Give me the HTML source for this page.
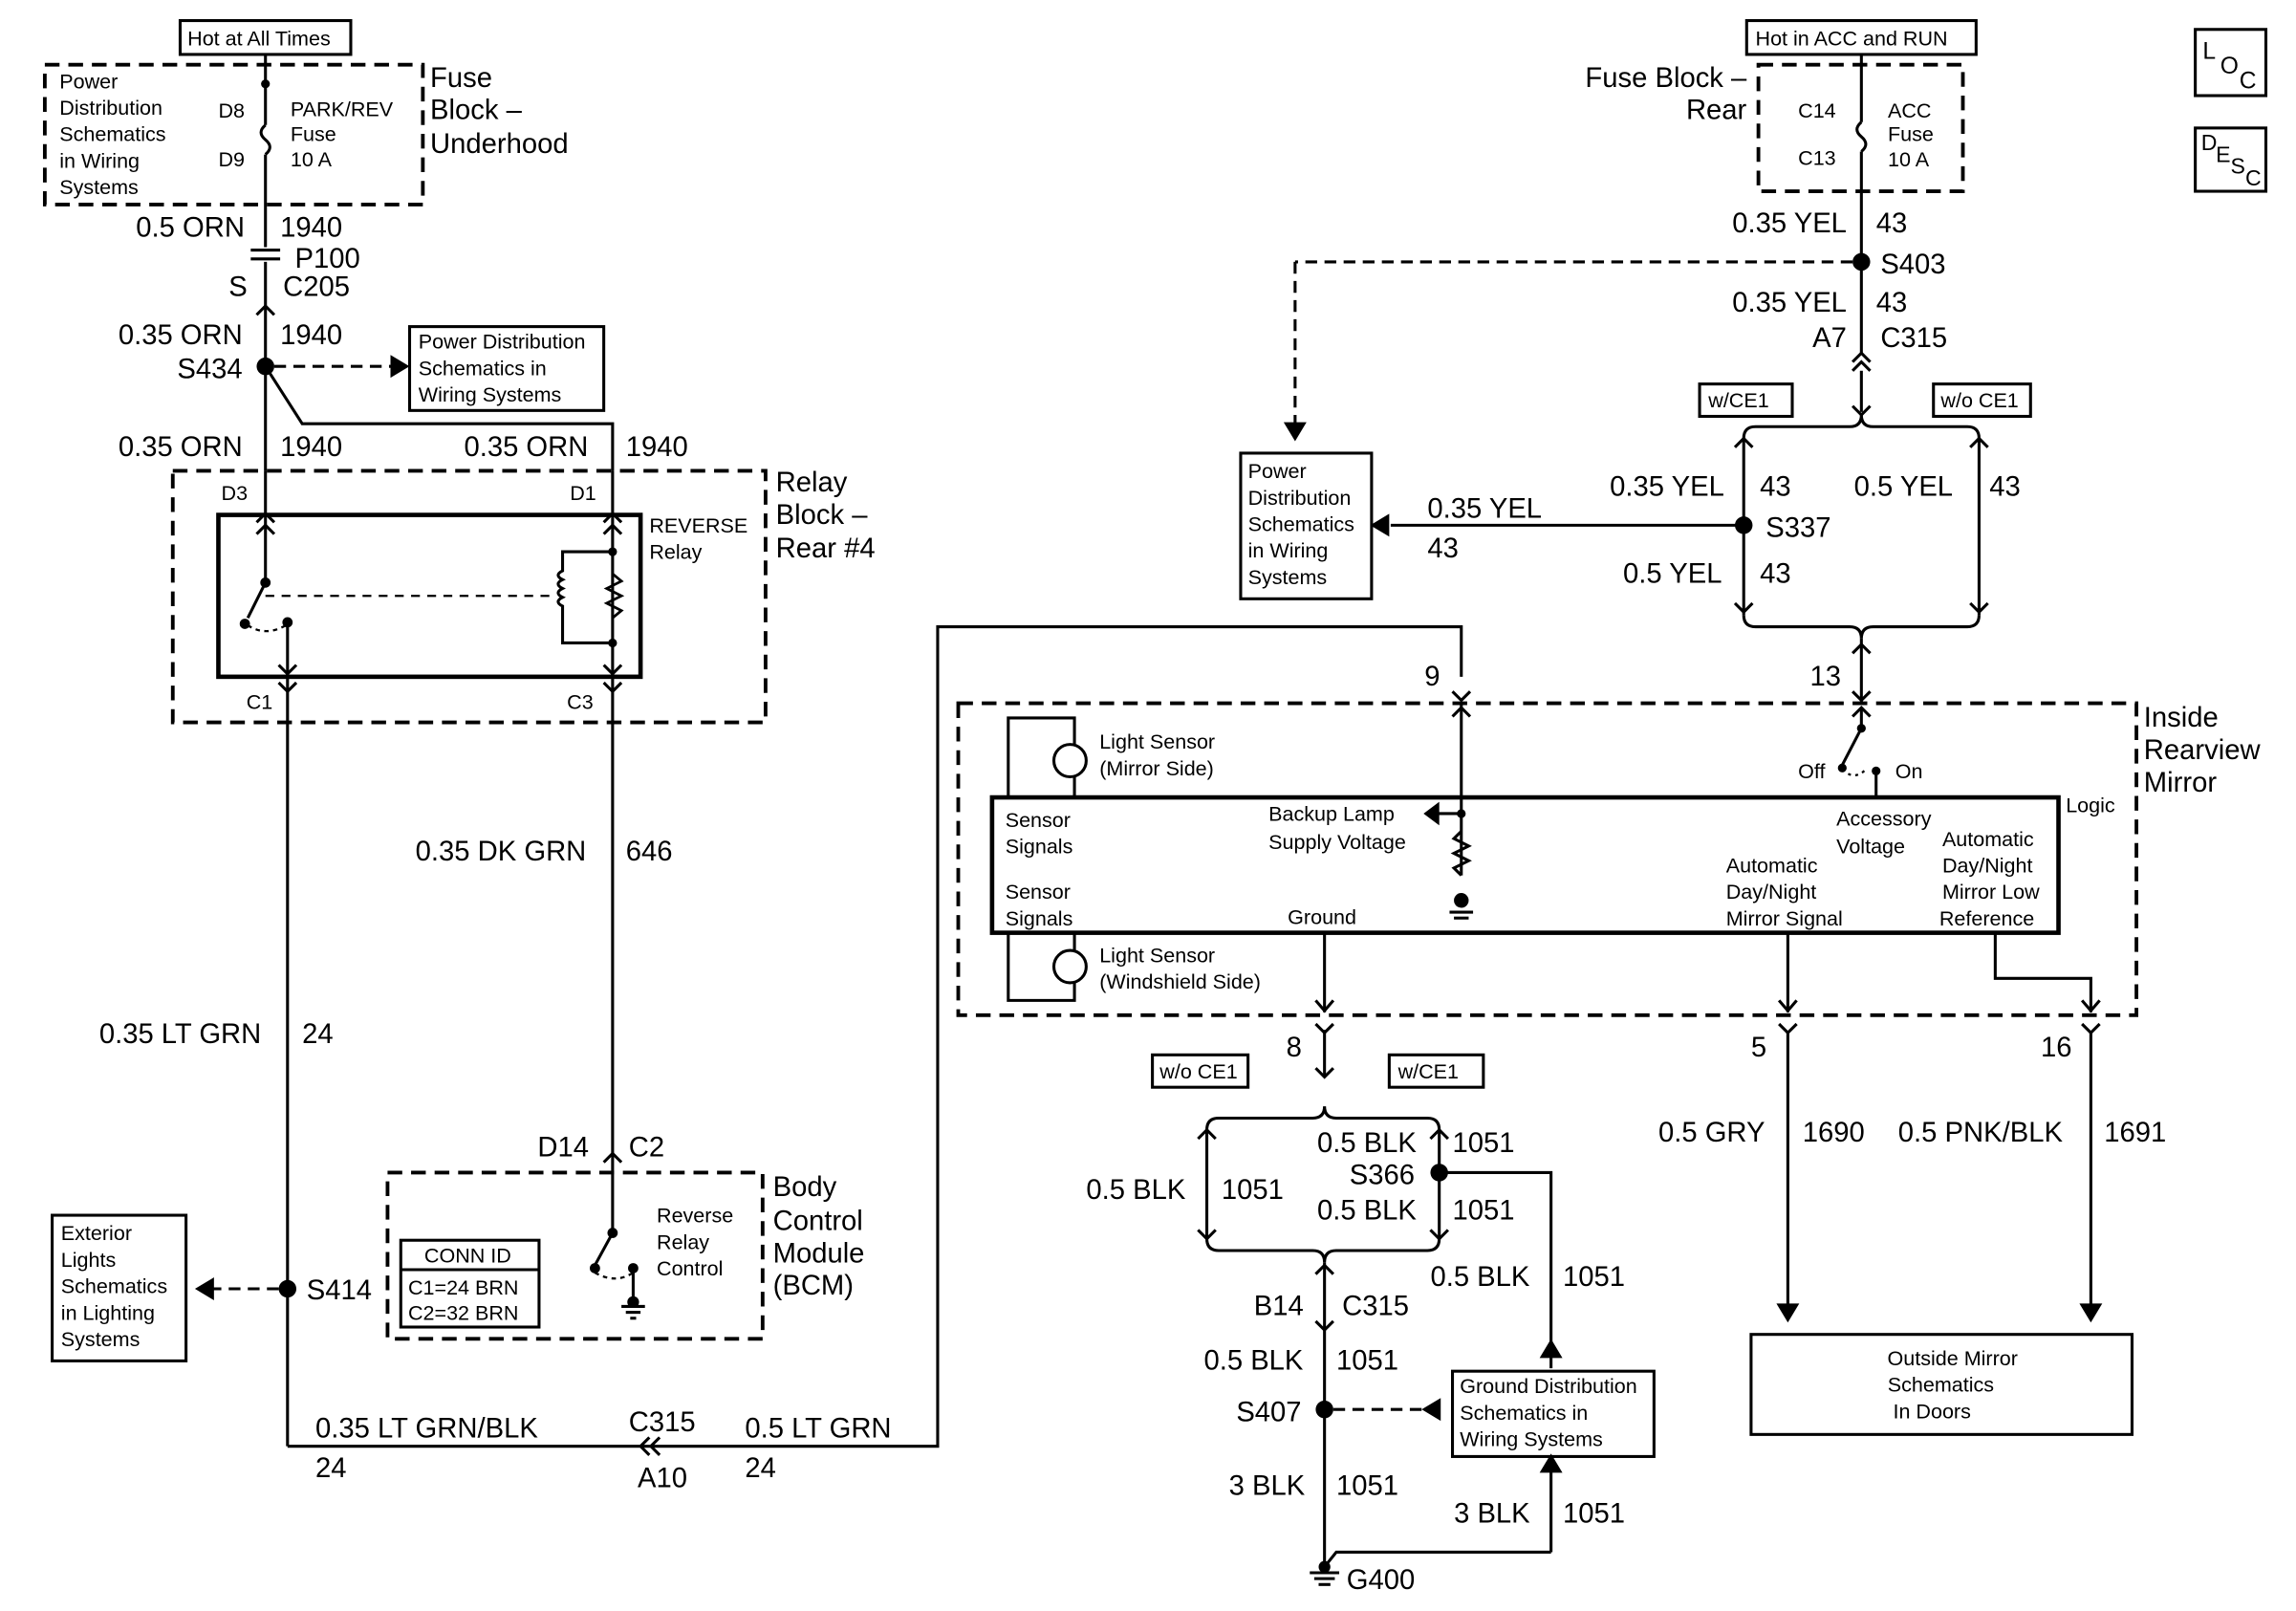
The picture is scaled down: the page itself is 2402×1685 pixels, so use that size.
<!DOCTYPE html>
<html><head><meta charset="utf-8"><style>
html,body{margin:0;padding:0;background:#fff;}
svg{display:block;}
text{font-family:"Liberation Sans",sans-serif;fill:#000;}
.b{font-size:19px;}
.s{font-size:14px;}
</style></head><body>
<svg width="2402" height="1685" viewBox="0 0 1560 1095" xmlns="http://www.w3.org/2000/svg">
<g fill="none" stroke="#000" stroke-width="2">
<!-- LEFT -->
<rect x="122" y="14" width="116" height="23" stroke-width="2"/>
<rect x="30" y="44" width="257" height="95" stroke-dasharray="10,6" stroke-width="2.5"/>
<line x1="180" y1="37" x2="180" y2="85"/>
<path d="M180,85 q-6,5 0,10 q6,5 0,10"/>
<line x1="180" y1="105" x2="180" y2="168"/>
<line x1="170" y1="170" x2="190" y2="170"/><line x1="170" y1="176" x2="190" y2="176"/>
<line x1="180" y1="178" x2="180" y2="320"/>
<path d="M174,214 l6,-6 l6,6"/>
<line x1="186" y1="249" x2="268" y2="249" stroke-dasharray="8,5"/>
<path d="M266,243 l10,6 l-10,6 z" fill="#000"/>
<rect x="278" y="222" width="132" height="57"/>
<path d="M180,249 L205,288 L416,288 L416,320"/>
<rect x="117" y="320" width="403" height="171" stroke-dasharray="10,6" stroke-width="2.5"/>
<line x1="180" y1="320" x2="180" y2="396"/><line x1="416" y1="320" x2="416" y2="460"/>
<path d="M174,355 l6,-6 l6,6"/><path d="M410,355 l6,-6 l6,6"/>
<rect x="148" y="350" width="287" height="110" stroke-width="3"/>
<path d="M174,363 l6,-6 l6,6"/><path d="M410,363 l6,-6 l6,6"/>
<line x1="180" y1="396" x2="168" y2="420"/>
<path d="M168,425 q12,8 26,0" stroke-dasharray="3,3" stroke-width="1.5"/>
<line x1="195" y1="423" x2="195" y2="460"/><path d="M189,452 l6,6 l6,-6"/>
<line x1="180" y1="405" x2="373" y2="405" stroke-dasharray="6,5" stroke-width="1.5"/>
<path d="M416,375 L382,375 L382,388 q-6,3 0,6 q-6,3 0,6 q-6,3 0,6 q-6,3 0,6 L382,437 L416,437"/>
<path d="M416,390 l6,5 l-10,5 l10,5 l-10,5 l10,5 l-6,5" stroke-width="1.8"/>
<path d="M410,452 l6,6 l6,-6"/>
<path d="M189,464 l6,6 l6,-6"/><path d="M410,464 l6,6 l6,-6"/>
<line x1="195" y1="460" x2="195" y2="983"/>
<line x1="416" y1="460" x2="416" y2="797"/>
<path d="M410,790 l6,-6 l6,6"/>
<rect x="263" y="797" width="255" height="113" stroke-dasharray="10,6" stroke-width="2.5"/>
<rect x="272" y="843" width="94" height="59"/><line x1="272" y1="863" x2="366" y2="863"/>
<line x1="416" y1="797" x2="416" y2="838"/><line x1="416" y1="838" x2="404" y2="860"/>
<path d="M404,865 q14,8 26,0" stroke-dasharray="3,3" stroke-width="1.5"/>
<line x1="430" y1="862" x2="430" y2="885"/>
<line x1="422" y1="888" x2="438" y2="888"/><line x1="425" y1="892" x2="435" y2="892"/><line x1="428" y1="896" x2="432" y2="896"/>
<line x1="189" y1="876" x2="142" y2="876" stroke-dasharray="8,5"/>
<path d="M144,870 l-10,6 l10,6 z" fill="#000"/>
<rect x="35" y="826" width="91" height="99"/>
<path d="M195,983 L637,983 L637,426 L993,426 L993,460"/>
<path d="M448,977 l-6,6 l6,6 M441,977 l-6,6 l6,6"/>
<!-- RIGHT TOP -->
<rect x="1187" y="14" width="156" height="23"/>
<rect x="1195" y="44" width="139" height="86" stroke-dasharray="10,6" stroke-width="2.5"/>
<line x1="1265" y1="37" x2="1265" y2="83"/>
<path d="M1265,83 q-6,5 0,10 q6,5 0,10"/>
<line x1="1265" y1="103" x2="1265" y2="240"/>
<path d="M1259,246 l6,-6 l6,6"/><path d="M1259,252 l6,-6 l6,6"/>
<line x1="1265" y1="252" x2="1265" y2="280"/>
<path d="M1259,276 l6,6 l6,-6"/>
<line x1="1259" y1="178" x2="880" y2="178" stroke-dasharray="8,5"/>
<line x1="880" y1="178" x2="880" y2="290" stroke-dasharray="8,5"/>
<path d="M874,288 l6,10 l6,-10 z" fill="#000"/>
<rect x="1155" y="261" width="63" height="22"/><rect x="1314" y="261" width="66" height="22"/>
<path d="M1185,298 q0,-8 8,-8 L1257,290 q8,0 8,-8 q0,8 8,8 L1337,290 q8,0 8,8"/>
<line x1="1185" y1="298" x2="1185" y2="418"/><line x1="1345" y1="298" x2="1345" y2="418"/>
<path d="M1179,304 l6,-6 l6,6 M1339,304 l6,-6 l6,6 M1179,410 l6,6 l6,-6 M1339,410 l6,6 l6,-6"/>
<path d="M1185,418 q0,8 8,8 L1257,426 q8,0 8,8 q0,-8 8,-8 L1337,426 q8,0 8,-8"/>
<line x1="1265" y1="434" x2="1265" y2="478"/>
<path d="M1259,444 l6,-6 l6,6 M1259,470 l6,6 l6,-6"/>
<line x1="1185" y1="357" x2="945" y2="357"/>
<path d="M943,351 l-10,6 l10,6 z" fill="#000"/>
<rect x="843" y="308" width="89" height="99"/>
<!-- MIRROR -->
<rect x="651" y="478" width="801" height="212" stroke-dasharray="10,6" stroke-width="2.5"/>
<path d="M987,470 l6,6 l6,-6"/><path d="M987,487 l6,-6 l6,6"/>
<line x1="993" y1="478" x2="993" y2="595"/>
<path d="M993,565 l-5,5 l10,5 l-10,5 l10,5 l-10,5 l5,5"/>
<line x1="993" y1="553" x2="975" y2="553"/><path d="M977,547 l-8,6 l8,6 z" fill="#000"/>
<line x1="985" y1="620" x2="1001" y2="620"/><line x1="988" y1="624" x2="998" y2="624"/>
<path d="M1259,487 l6,-6 l6,6"/>
<line x1="1265" y1="481" x2="1265" y2="495"/><line x1="1265" y1="495" x2="1252" y2="520"/>
<path d="M1252,523 q8,8 16,0" stroke-dasharray="2,3" stroke-width="1.5"/>
<line x1="1275" y1="524" x2="1275" y2="542"/>
<rect x="674" y="542" width="725" height="92" stroke-width="3"/>
<path d="M685,542 L685,488 L730,488 L730,542" stroke-width="2"/>
<path d="M685,634 L685,680 L730,680 L730,634" stroke-width="2"/>
<circle cx="727" cy="517" r="11" fill="#fff"/><circle cx="727" cy="657" r="11" fill="#fff"/>
<line x1="900" y1="634" x2="900" y2="688"/><path d="M894,680 l6,7 l6,-7"/>
<line x1="1215" y1="634" x2="1215" y2="688"/><path d="M1209,680 l6,7 l6,-7"/>
<path d="M1356,634 L1356,665 L1421,665 L1421,688"/><path d="M1415,680 l6,7 l6,-7"/>
<path d="M894,696 l6,6 l6,-6 M1209,696 l6,6 l6,-6 M1415,696 l6,6 l6,-6"/>
<!-- bottom center -->
<line x1="900" y1="700" x2="900" y2="732"/><path d="M894,726 l6,6 l6,-6"/>
<rect x="783" y="717" width="65" height="22"/><rect x="944" y="717" width="64" height="22"/>
<path d="M820,768 q0,-8 8,-8 L892,760 q8,0 8,-8 q0,8 8,8 L970,760 q8,0 8,8"/>
<line x1="820" y1="768" x2="820" y2="842"/><line x1="978" y1="768" x2="978" y2="842"/>
<path d="M814,774 l6,-6 l6,6 M972,774 l6,-6 l6,6 M814,836 l6,6 l6,-6 M972,836 l6,6 l6,-6"/>
<path d="M820,842 q0,8 8,8 L892,850 q8,0 8,8 q0,-8 8,-8 L970,850 q8,0 8,-8"/>
<line x1="900" y1="858" x2="900" y2="1065"/>
<path d="M894,866 l6,-6 l6,6 M894,898 l6,6 l6,-6"/>
<path d="M978,797 L1054,797 L1054,930"/>
<path d="M1048,922 l6,-10 l6,10 z" fill="#000"/>
<rect x="987" y="932" width="137" height="58"/>
<line x1="906" y1="958" x2="968" y2="958" stroke-dasharray="8,5"/>
<path d="M978,952 l-10,6 l10,6 z" fill="#000"/>
<path d="M1054,1055 L1054,995"/><path d="M1048,1000 l6,-10 l6,10 z" fill="#000"/>
<path d="M1054,1055 L908,1055 L900,1065"/>
<line x1="890" y1="1069" x2="910" y2="1069"/><line x1="893" y1="1073" x2="907" y2="1073"/><line x1="896" y1="1077" x2="904" y2="1077"/>
<line x1="1215" y1="702" x2="1215" y2="893"/><path d="M1209,887 l6,10 l6,-10 z" fill="#000"/>
<line x1="1421" y1="702" x2="1421" y2="893"/><path d="M1415,887 l6,10 l6,-10 z" fill="#000"/>
<rect x="1190" y="907" width="259" height="68"/>
<rect x="1492" y="20" width="48" height="45"/><rect x="1492" y="87" width="48" height="43"/>
</g>
<g fill="#000">
<circle cx="180" cy="57" r="3"/><circle cx="180" cy="249" r="6"/><circle cx="195" cy="876" r="6"/>
<circle cx="1265" cy="178" r="6"/><circle cx="1185" cy="357" r="6"/><circle cx="978" cy="797" r="6"/><circle cx="900" cy="958" r="6"/>
<circle cx="180" cy="396" r="3.5"/><circle cx="166" cy="424" r="3.5"/><circle cx="195" cy="423" r="3.5"/>
<circle cx="416" cy="375" r="3"/><circle cx="416" cy="437" r="3"/>
<circle cx="404" cy="862" r="3.5"/><circle cx="430" cy="862" r="3.5"/><circle cx="416" cy="838" r="3.5"/><circle cx="430" cy="885" r="4"/>
<circle cx="993" cy="553" r="3"/><circle cx="993" cy="612" r="5"/>
<circle cx="1265" cy="495" r="3"/><circle cx="1252" cy="522" r="3"/><circle cx="1275" cy="524" r="3"/>
<circle cx="900" cy="1065" r="4"/>
</g>
<g class="s">
<text x="127" y="31">Hot at All Times</text>
<text x="40" y="60">Power</text><text x="40" y="78">Distribution</text><text x="40" y="96">Schematics</text><text x="40" y="114">in Wiring</text><text x="40" y="132">Systems</text>
<text x="148" y="80">D8</text><text x="148" y="113">D9</text>
<text x="197" y="79">PARK/REV</text><text x="197" y="96">Fuse</text><text x="197" y="113">10 A</text>
<text x="284" y="237">Power Distribution</text><text x="284" y="255">Schematics in</text><text x="284" y="273">Wiring Systems</text>
<text x="150" y="340">D3</text><text x="387" y="340">D1</text>
<text x="441" y="362">REVERSE</text><text x="441" y="380">Relay</text>
<text x="167" y="482">C1</text><text x="385" y="482">C3</text>
<text x="288" y="858">CONN ID</text><text x="277" y="880">C1=24 BRN</text><text x="277" y="897">C2=32 BRN</text>
<text x="446" y="831">Reverse</text><text x="446" y="849">Relay</text><text x="446" y="867">Control</text>
<text x="41" y="843">Exterior</text><text x="41" y="861">Lights</text><text x="41" y="879">Schematics</text><text x="41" y="897">in Lighting</text><text x="41" y="915">Systems</text>
<text x="1193" y="31">Hot in ACC and RUN</text>
<text x="1222" y="80">C14</text><text x="1222" y="112">C13</text>
<text x="1283" y="80">ACC</text><text x="1283" y="96">Fuse</text><text x="1283" y="113">10 A</text>
<text x="1161" y="277">w/CE1</text><text x="1319" y="277">w/o CE1</text>
<text x="848" y="325">Power</text><text x="848" y="343">Distribution</text><text x="848" y="361">Schematics</text><text x="848" y="379">in Wiring</text><text x="848" y="397">Systems</text>
<text x="747" y="509">Light Sensor</text><text x="747" y="527">(Mirror Side)</text>
<text x="747" y="654">Light Sensor</text><text x="747" y="672">(Windshield Side)</text>
<text x="683" y="562">Sensor</text><text x="683" y="580">Signals</text><text x="683" y="611">Sensor</text><text x="683" y="629">Signals</text>
<text x="862" y="558">Backup Lamp</text><text x="862" y="577">Supply Voltage</text>
<text x="875" y="628">Ground</text>
<text x="1222" y="529">Off</text><text x="1288" y="529">On</text>
<text x="1248" y="561">Accessory</text><text x="1248" y="580">Voltage</text>
<text x="1173" y="593">Automatic</text><text x="1173" y="611">Day/Night</text><text x="1173" y="629">Mirror Signal</text>
<text x="1320" y="575">Automatic</text><text x="1320" y="593">Day/Night</text><text x="1320" y="611">Mirror Low</text><text x="1318" y="629">Reference</text>
<text x="1404" y="552">Logic</text>
<text x="788" y="733">w/o CE1</text><text x="950" y="733">w/CE1</text>
<text x="992" y="947">Ground Distribution</text><text x="992" y="965">Schematics in</text><text x="992" y="983">Wiring Systems</text>
<text x="1327" y="928" text-anchor="middle">Outside Mirror</text><text x="1319" y="946" text-anchor="middle">Schematics</text><text x="1313" y="964" text-anchor="middle">In Doors</text>
<text x="1497" y="40" font-size="16">L</text><text x="1509" y="50" font-size="16">O</text><text x="1522" y="60" font-size="16">C</text>
<text x="1496" y="102" font-size="15">D</text><text x="1506" y="110" font-size="15">E</text><text x="1516" y="118" font-size="15">S</text><text x="1526" y="126" font-size="15">C</text>
</g>
<g class="b">
<text x="292" y="59">Fuse</text><text x="292" y="81">Block –</text><text x="292" y="104">Underhood</text>
<text x="92" y="161">0.5 ORN</text><text x="190" y="161">1940</text>
<text x="200" y="182">P100</text><text x="155" y="201">S</text><text x="192" y="201">C205</text>
<text x="80" y="234">0.35 ORN</text><text x="190" y="234">1940</text><text x="120" y="257">S434</text>
<text x="80" y="310">0.35 ORN</text><text x="190" y="310">1940</text><text x="315" y="310">0.35 ORN</text><text x="425" y="310">1940</text>
<text x="527" y="334">Relay</text><text x="527" y="356">Block –</text><text x="527" y="379">Rear #4</text>
<text x="282" y="585">0.35 DK GRN</text><text x="425" y="585">646</text>
<text x="67" y="709">0.35 LT GRN</text><text x="205" y="709">24</text>
<text x="365" y="786">D14</text><text x="427" y="786">C2</text>
<text x="525" y="813">Body</text><text x="525" y="836">Control</text><text x="525" y="858">Module</text><text x="525" y="880">(BCM)</text>
<text x="208" y="883">S414</text>
<text x="214" y="977">0.35 LT GRN/BLK</text><text x="214" y="1004">24</text>
<text x="427" y="973">C315</text><text x="433" y="1011">A10</text>
<text x="506" y="977">0.5 LT GRN</text><text x="506" y="1004">24</text>
<text x="1187" y="59" text-anchor="end">Fuse Block –</text><text x="1187" y="81" text-anchor="end">Rear</text>
<text x="1255" y="158" text-anchor="end">0.35 YEL</text><text x="1275" y="158">43</text><text x="1278" y="186">S403</text>
<text x="1255" y="212" text-anchor="end">0.35 YEL</text><text x="1275" y="212">43</text>
<text x="1255" y="236" text-anchor="end">A7</text><text x="1278" y="236">C315</text>
<text x="1094" y="337">0.35 YEL</text><text x="1196" y="337">43</text>
<text x="1260" y="337">0.5 YEL</text><text x="1352" y="337">43</text>
<text x="1200" y="365">S337</text>
<text x="1103" y="396">0.5 YEL</text><text x="1196" y="396">43</text>
<text x="970" y="352">0.35 YEL</text><text x="970" y="379">43</text>
<text x="968" y="466">9</text><text x="1230" y="466">13</text>
<text x="1457" y="494">Inside</text><text x="1457" y="516">Rearview</text><text x="1457" y="538">Mirror</text>
<text x="874" y="718">8</text><text x="1190" y="718">5</text><text x="1387" y="718">16</text>
<text x="738" y="815">0.5 BLK</text><text x="830" y="815">1051</text>
<text x="895" y="783">0.5 BLK</text><text x="987" y="783">1051</text>
<text x="917" y="805">S366</text>
<text x="895" y="829">0.5 BLK</text><text x="987" y="829">1051</text>
<text x="972" y="874">0.5 BLK</text><text x="1062" y="874">1051</text>
<text x="852" y="894">B14</text><text x="912" y="894">C315</text>
<text x="818" y="931">0.5 BLK</text><text x="908" y="931">1051</text>
<text x="840" y="966">S407</text>
<text x="835" y="1016">3 BLK</text><text x="908" y="1016">1051</text>
<text x="988" y="1035">3 BLK</text><text x="1062" y="1035">1051</text>
<text x="915" y="1080">G400</text>
<text x="1127" y="776">0.5 GRY</text><text x="1225" y="776">1690</text>
<text x="1290" y="776">0.5 PNK/BLK</text><text x="1430" y="776">1691</text>
</g>
</svg>
</body></html>
